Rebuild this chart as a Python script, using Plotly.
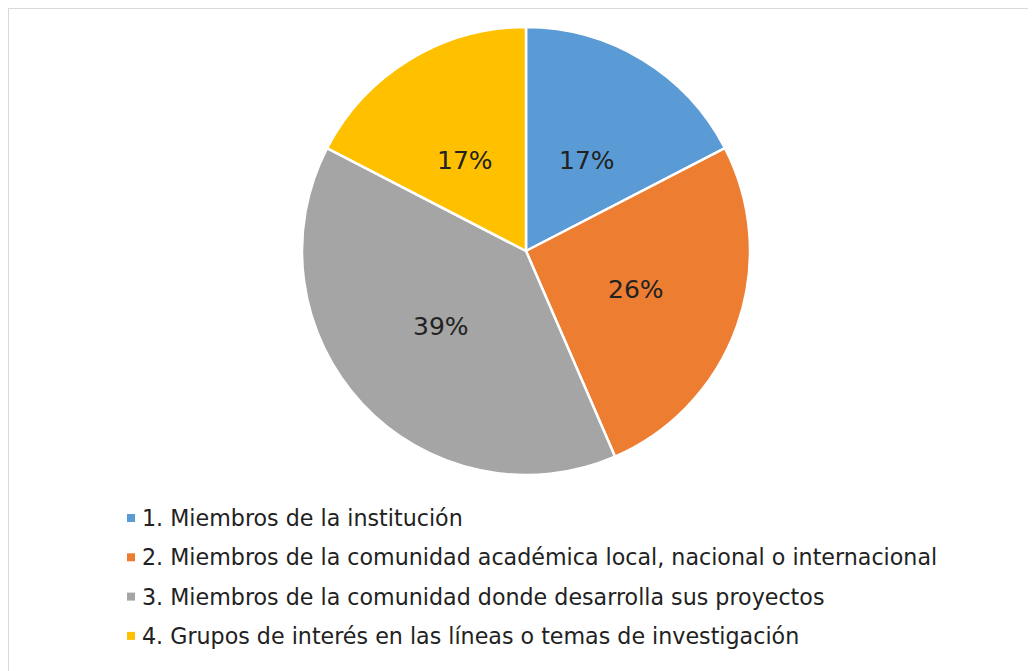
import math
import plotly.graph_objects as go

# Page is rendered with an 8px body margin; work in page pixels and convert.
OFF = 8
W, H = 1036 - OFF, 671 - OFF

categories = [
    "1. Miembros de la institución",
    "2. Miembros de la comunidad académica local, nacional o internacional",
    "3. Miembros de la comunidad donde desarrolla sus proyectos",
    "4. Grupos de interés en las líneas o temas de investigación",
]
values = [17.4, 26.1, 39.1, 17.4]
colors = ["#5B9BD5", "#ED7D31", "#A5A5A5", "#FFC000"]

TEXT_COLOR = "#222222"
FONT = "DejaVu Sans"


def px(x):
    return (x - OFF) / W


def py(y):
    return 1 - (y - OFF) / H


cx, cy, r = 526, 251, 224

fig = go.Figure(
    go.Pie(
        labels=categories,
        values=values,
        sort=False,
        direction="clockwise",
        rotation=0,
        marker=dict(colors=colors, line=dict(color="white", width=2.5)),
        textinfo="none",
        domain=dict(x=[px(cx - r), px(cx + r)], y=[py(cy + r), py(cy - r)]),
        showlegend=False,
        hovertemplate="%{label}<br>%{percent:.0%}<extra></extra>",
    )
)

shapes = [
    dict(
        type="rect", xref="paper", yref="paper",
        x0=0, x1=1.02, y0=-0.02, y1=1,
        line=dict(color="#D9D9D9", width=2), fillcolor="rgba(0,0,0,0)",
        layer="below",
    )
]
annotations = []

# percentage labels placed near half radius, mid-angle of each slice
total = sum(values)
cum = 0.0
for v in values:
    mid = (cum + v / 2) / total * 2 * math.pi
    cum += v
    lx = cx + 0.52 * r * math.sin(mid)
    ly = cy + 2 - 0.52 * r * 0.93 * math.cos(mid)
    annotations.append(dict(
        text=f"{round(v / total * 100)}%", xref="paper", yref="paper",
        x=px(lx), y=py(ly), xanchor="center", yanchor="middle",
        showarrow=False, font=dict(family=FONT, size=25, color=TEXT_COLOR),
    ))

# legend
row0, step = 518, 39.3
for i, (lab, col) in enumerate(zip(categories, colors)):
    yc = row0 + i * step
    shapes.append(dict(
        type="rect", xref="paper", yref="paper",
        x0=px(127), x1=px(135), y0=py(yc + 4), y1=py(yc - 4),
        line=dict(width=0), fillcolor=col,
    ))
    annotations.append(dict(
        text=lab, xref="paper", yref="paper",
        x=px(140), y=py(yc), xanchor="left", yanchor="middle",
        showarrow=False, font=dict(family=FONT, size=22.2, color=TEXT_COLOR),
    ))

fig.update_layout(
    width=W, height=H,
    margin=dict(l=0, r=0, t=0, b=0),
    paper_bgcolor="white",
    plot_bgcolor="white",
    shapes=shapes,
    annotations=annotations,
)

fig.write_html("out.html")
